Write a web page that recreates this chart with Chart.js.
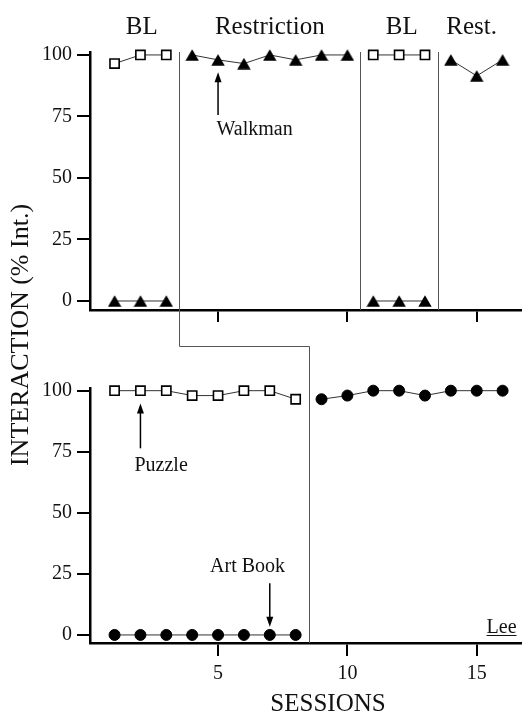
<!DOCTYPE html>
<html><head><meta charset="utf-8">
<script src="https://cdn.jsdelivr.net/npm/chart.js@4.4.1/dist/chart.umd.min.js"></script>
<style>
html,body{margin:0;padding:0;background:#fff;}
#wrap{position:relative;width:522px;height:717px;overflow:hidden;background:#fff;}
#wrap canvas{position:absolute;left:0;top:0;}
</style></head><body>
<div id="wrap"><canvas id="bottomChart" width="522" height="717"></canvas><canvas id="topChart" width="522" height="717"></canvas></div>
<script>
// ---- data ----
const sessions = [1,2,3,4,5,6,7,8,9,10,11,12,13,14,15,16];
const topSquares = [96.5,100,100,null,null,null,null,null,null,null,100,100,100,null,null,null];
const topTriangles = [0,0,0,100,98,96.5,100,98,100,100,0,0,0,98,91.5,98];
const bottomSquares = [100,100,100,98,98,100,100,96.5,null,null,null,null,null,null,null,null];
const bottomCircles = [0,0,0,0,0,0,0,0,96.5,98,100,100,98,100,100,100];
const topPhaseLines = [3.5,10.5,13.5];
const bottomPhaseLines = [8.5];
const topPhaseLabels = ['BL','Restriction','BL','Rest.'];
const topPhaseCenters = [2.05,7,12.1,14.8];
const xTicks = [5,10,15];
const yTicks = [0,25,50,75,100];

// ---- styles ----
const FONT = "'Liberation Serif', 'Times New Roman', serif";
const INK = '#111';
const LINE = '#333';
const PHASE = '#555';

// filled triangle marker centred on its point
const triMarker = (() => {
  const c = document.createElement('canvas');
  c.width = 14; c.height = 12;
  const g = c.getContext('2d');
  g.fillStyle = '#000';
  g.beginPath(); g.moveTo(7, 0.3); g.lineTo(13.7, 11.7); g.lineTo(0.3, 11.7); g.closePath(); g.fill();
  return c;
})();

const toPts = arr => sessions.map((s,i) => ({x:s, y:arr[i]}));
const breakSeg = lines => ({
  borderColor: c => lines.some(b => c.p0.parsed.x < b && c.p1.parsed.x > b) ? 'rgba(0,0,0,0)' : LINE
});

function xScale(showLabels, tickLen, height) {
  return {
    type:'linear', min:0.05, max:16.75,
    afterBuildTicks: s => { s.ticks = xTicks.map(v => ({value:v})); },
    afterFit: s => { s.height = height; },
    border: {display:true, color:'#000', width:2.5},
    grid: {drawOnChartArea:false, drawTicks:true, tickLength:tickLen, color:'#000', lineWidth:2},
    ticks: {display:showLabels, color:INK, font:{family:FONT, size:20}, padding:6, maxRotation:0, autoSkip:false}
  };
}
function yScale(min, max) {
  return {
    type:'linear', min:min, max:max,
    afterBuildTicks: s => { s.ticks = yTicks.map(v => ({value:v})); },
    afterFit: s => { s.width = 90; },
    border: {display:true, color:'#000', width:2.5},
    grid: {drawOnChartArea:false, drawTicks:true, tickLength:13, color:'#000', lineWidth:2},
    ticks: {color:INK, font:{family:FONT, size:20}, padding:5}
  };
}
function arrow(ctx, x, yTail, yTip) {
  const d = yTip < yTail ? 1 : -1;
  ctx.beginPath(); ctx.moveTo(x, yTail); ctx.lineTo(x, yTip + d*8); ctx.stroke();
  ctx.beginPath(); ctx.moveTo(x, yTip); ctx.lineTo(x-3.5, yTip + d*10); ctx.lineTo(x+3.5, yTip + d*10); ctx.closePath(); ctx.fill();
}
const common = {
  responsive:false, animation:false, devicePixelRatio:1,
  plugins:{legend:{display:false}, tooltip:{enabled:false}},
  elements:{line:{tension:0}}
};

// ---- bottom panel ----
const bottomDeco = {
  id:'bottomDeco',
  beforeDatasetsDraw(chart) {
    const {ctx, chartArea:a, scales:{x, y}} = chart;
    ctx.save();
    ctx.strokeStyle = PHASE; ctx.lineWidth = 1;
    bottomPhaseLines.forEach(v => {
      const px = Math.round(x.getPixelForValue(v)) + 0.5;
      ctx.beginPath(); ctx.moveTo(px, Math.round(y.getPixelForValue(118.3)) + 0.5); ctx.lineTo(px, a.bottom); ctx.stroke();
    });
    ctx.restore();
  },
  afterDraw(chart) {
    const {ctx, scales:{x, y}} = chart;
    ctx.save();
    ctx.fillStyle = '#000'; ctx.strokeStyle = '#000'; ctx.lineWidth = 1.5;
    arrow(ctx, x.getPixelForValue(2), y.getPixelForValue(76.4), y.getPixelForValue(94.8));
    arrow(ctx, x.getPixelForValue(7), y.getPixelForValue(21.2), y.getPixelForValue(3.4));
    ctx.fillStyle = INK;
    ctx.font = '20px ' + FONT; ctx.textBaseline = 'alphabetic';
    ctx.textAlign = 'left';
    ctx.fillText('Puzzle', x.getPixelForValue(2) - 6, y.getPixelForValue(67.3));
    ctx.textAlign = 'center';
    ctx.fillText('Art Book', x.getPixelForValue(6.14), y.getPixelForValue(25.9));
    ctx.textAlign = 'left';
    const lx = x.getPixelForValue(15.38), ly = y.getPixelForValue(0.8);
    ctx.fillText('Lee', lx, ly);
    const w = ctx.measureText('Lee').width;
    ctx.lineWidth = 1; ctx.strokeStyle = INK;
    ctx.beginPath(); ctx.moveTo(lx, ly + 2.5); ctx.lineTo(lx + w, ly + 2.5); ctx.stroke();
    // axis title (x)
    ctx.font = '25px ' + FONT; ctx.textAlign = 'center';
    ctx.fillText('SESSIONS', x.getPixelForValue(9.25), 711);
    // axis title (y), spans both panels
    ctx.translate(28, 335); ctx.rotate(-Math.PI/2);
    ctx.font = '26px ' + FONT; ctx.textAlign = 'center'; ctx.textBaseline = 'alphabetic';
    ctx.fillText('INTERACTION (% Int.)', 0, 0);
    ctx.restore();
  }
};

new Chart(document.getElementById('bottomChart'), {
  type:'line',
  data:{datasets:[
    {data:toPts(bottomSquares), pointStyle:'rect', pointRadius:6.5, pointBorderWidth:1.6, pointBackgroundColor:'#fff', pointBorderColor:'#000', borderColor:LINE, borderWidth:1, clip:false, segment:breakSeg(bottomPhaseLines)},
    {data:toPts(bottomCircles), pointStyle:'circle', pointRadius:5.5, pointBorderWidth:1, pointBackgroundColor:'#000', pointBorderColor:'#000', borderColor:LINE, borderWidth:1, clip:false, segment:breakSeg(bottomPhaseLines)}
  ]},
  options:Object.assign({}, common, {
    layout:{autoPadding:false, padding:{top:388, bottom:0, left:0, right:0}},
    scales:{x:xScale(true, 13, 74), y:yScale(-3.3, 101.1)}
  }),
  plugins:[bottomDeco]
});

// ---- top panel ----
const topDeco = {
  id:'topDeco',
  beforeDatasetsDraw(chart) {
    const {ctx, chartArea:a, scales:{x, y}} = chart;
    ctx.save();
    ctx.strokeStyle = PHASE; ctx.lineWidth = 1;
    topPhaseLines.forEach((v, i) => {
      const px = Math.round(x.getPixelForValue(v)) + 0.5;
      ctx.beginPath(); ctx.moveTo(px, a.top);
      if (i === 0) {
        const cy = Math.round(y.getPixelForValue(-18.3)) + 0.5;
        ctx.lineTo(px, cy);
        ctx.lineTo(Math.round(x.getPixelForValue(bottomPhaseLines[0])) + 0.5, cy);
      } else {
        ctx.lineTo(px, a.bottom);
      }
      ctx.stroke();
    });
    ctx.restore();
  },
  afterDraw(chart) {
    const {ctx, scales:{x, y}} = chart;
    ctx.save();
    ctx.fillStyle = INK;
    ctx.font = '25px ' + FONT; ctx.textAlign = 'center'; ctx.textBaseline = 'middle';
    topPhaseLabels.forEach((t, i) => ctx.fillText(t, x.getPixelForValue(topPhaseCenters[i]), 27));
    ctx.fillStyle = '#000'; ctx.strokeStyle = '#000'; ctx.lineWidth = 1.5;
    arrow(ctx, x.getPixelForValue(5), y.getPixelForValue(75.6), y.getPixelForValue(93));
    ctx.fillStyle = INK;
    ctx.font = '20px ' + FONT; ctx.textAlign = 'left'; ctx.textBaseline = 'alphabetic';
    ctx.fillText('Walkman', x.getPixelForValue(5) - 1.5, y.getPixelForValue(67.5));
    ctx.restore();
  }
};

new Chart(document.getElementById('topChart'), {
  type:'line',
  data:{datasets:[
    {data:toPts(topSquares), pointStyle:'rect', pointRadius:6.5, pointBorderWidth:1.6, pointBackgroundColor:'#fff', pointBorderColor:'#000', borderColor:LINE, borderWidth:1, clip:false, segment:breakSeg(topPhaseLines)},
    {data:toPts(topTriangles), pointStyle:triMarker, pointRadius:7, borderColor:LINE, borderWidth:1, clip:false, segment:breakSeg(topPhaseLines)}
  ]},
  options:Object.assign({}, common, {
    layout:{autoPadding:false, padding:{top:52, bottom:395, left:0, right:0}},
    scales:{x:xScale(false, 12, 12), y:yScale(-3.66, 101.2)}
  }),
  plugins:[topDeco]
});
</script>
</body></html>
